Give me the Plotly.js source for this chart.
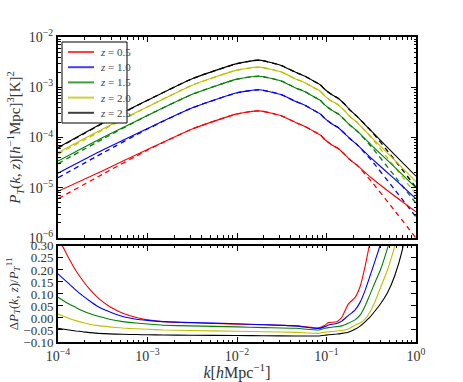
<!DOCTYPE html>
<html>
<head>
<meta charset="utf-8">
<script src="https://cdn.plot.ly/plotly-3.0.1.min.js"></script>
<style>
  html, body { margin: 0; padding: 0; background: #fff; }
  #plot { width: 463px; height: 382px; }
</style>
</head>
<body>
<div id="plot"></div>
<script>
/* ---------- data ---------- */

const redshifts = ['0.5', '1.0', '1.5', '2.0', '2.5'];
const lineColors = ['#ff0000', '#0000ff', '#008000', '#bfbf00', '#000000'];

// top panel: k grid [h/Mpc]
const kTop = [1e-4, 3.16e-4, 1e-3, 3.16e-3, 1e-2, 0.0178, 0.0316, 0.0447, 0.0575, 0.066,
  0.0741, 0.0851, 0.0955, 0.115, 0.135, 0.162, 0.182, 0.219, 0.316, 0.562, 1.0];

// solid curves P_T(k,z)
const pz05 = [8.51e-6, 2.19e-5, 5.75e-5, 1.48e-4, 2.95e-4, 3.39e-4, 2.69e-4, 2.00e-4, 1.66e-4, 1.45e-4,
  1.29e-4, 1.13e-4, 9.12e-5, 7.08e-5, 6.03e-5, 4.47e-5, 3.63e-5, 2.82e-5, 1.58e-5, 7.08e-6, 3.31e-6];
const pz10 = [1.95e-5, 5.62e-5, 1.51e-4, 3.89e-4, 7.76e-4, 8.91e-4, 7.08e-4, 5.25e-4, 4.37e-4, 3.80e-4,
  3.39e-4, 2.95e-4, 2.40e-4, 1.86e-4, 1.58e-4, 1.17e-4, 9.55e-5, 7.24e-5, 3.89e-5, 1.55e-5, 6.03e-6];
const pz15 = [3.39e-5, 1.00e-4, 2.75e-4, 7.24e-4, 1.45e-3, 1.66e-3, 1.32e-3, 9.77e-4, 8.13e-4, 7.08e-4,
  6.31e-4, 5.50e-4, 4.47e-4, 3.47e-4, 2.95e-4, 2.19e-4, 1.78e-4, 1.35e-4, 7.08e-5, 2.69e-5, 1.00e-5];
const pz20 = [5.01e-5, 1.48e-4, 4.07e-4, 1.10e-3, 2.19e-3, 2.51e-3, 2.00e-3, 1.48e-3, 1.23e-3, 1.07e-3,
  9.55e-4, 8.32e-4, 6.76e-4, 5.25e-4, 4.47e-4, 3.31e-4, 2.63e-4, 2.00e-4, 1.02e-4, 3.72e-5, 1.32e-5];
const pz25 = [6.31e-5, 1.95e-4, 5.50e-4, 1.48e-3, 2.95e-3, 3.47e-3, 2.69e-3, 2.00e-3, 1.66e-3, 1.45e-3,
  1.29e-3, 1.12e-3, 9.12e-4, 7.08e-4, 6.03e-4, 4.47e-4, 3.55e-4, 2.63e-4, 1.35e-4, 4.79e-5, 1.70e-5];

// dashed curves (reference spectrum)
const dz05 = [6.03e-6, 1.86e-5, 5.62e-5, 1.48e-4, 2.95e-4, 3.39e-4, 2.69e-4, 2.00e-4, 1.66e-4, 1.45e-4,
  1.29e-4, 1.13e-4, 9.12e-5, 7.08e-5, 6.03e-5, 4.47e-5, 3.63e-5, 2.82e-5, 1.35e-5, 3.72e-6, 1.00e-6];
const dz10 = [1.58e-5, 4.90e-5, 1.48e-4, 3.89e-4, 7.76e-4, 8.91e-4, 7.08e-4, 5.25e-4, 4.37e-4, 3.80e-4,
  3.39e-4, 2.95e-4, 2.40e-4, 1.86e-4, 1.58e-4, 1.17e-4, 9.55e-5, 7.24e-5, 3.55e-5, 9.77e-6, 2.63e-6];
const dz15 = [3.02e-5, 9.33e-5, 2.75e-4, 7.24e-4, 1.45e-3, 1.66e-3, 1.32e-3, 9.77e-4, 8.13e-4, 7.08e-4,
  6.31e-4, 5.50e-4, 4.47e-4, 3.47e-4, 2.95e-4, 2.19e-4, 1.78e-4, 1.35e-4, 6.61e-5, 1.82e-5, 4.90e-6];
const dz20 = [4.68e-5, 1.41e-4, 4.07e-4, 1.10e-3, 2.19e-3, 2.51e-3, 2.00e-3, 1.48e-3, 1.23e-3, 1.07e-3,
  9.55e-4, 8.32e-4, 6.76e-4, 5.25e-4, 4.47e-4, 3.31e-4, 2.63e-4, 2.00e-4, 1.00e-4, 2.75e-5, 7.41e-6];
const dz25 = [6.17e-5, 1.91e-4, 5.50e-4, 1.48e-3, 2.95e-3, 3.47e-3, 2.69e-3, 2.00e-3, 1.66e-3, 1.45e-3,
  1.29e-3, 1.12e-3, 9.12e-4, 7.08e-4, 6.03e-4, 4.47e-4, 3.55e-4, 2.63e-4, 1.35e-4, 3.80e-5, 1.02e-5];

// bottom panel: relative difference
const kBot = [1e-4, 1.12e-4, 1.33e-4, 1.58e-4, 1.88e-4, 2.24e-4, 2.82e-4, 3.76e-4, 5.3e-4, 7.5e-4,
  1e-3, 1.5e-3, 3e-3, 1e-2, 2e-2, 0.046, 0.081, 0.096, 0.105, 0.13, 0.148, 0.175, 0.208, 0.237,
  0.27, 0.30, 0.35, 0.40, 0.48, 0.58, 0.70, 0.85, 1.0];
const rz05 = [0.33, 0.30, 0.247, 0.198, 0.157, 0.121, 0.083, 0.048, 0.020, 0.002,
  -0.008, -0.016, -0.020, -0.026, -0.028, -0.033, -0.041, -0.030, -0.019, -0.016, 0.002, 0.058, 0.085, 0.130,
  0.215, 0.30, 0.45];
const rz10 = [0.184, 0.167, 0.142, 0.116, 0.093, 0.072, 0.047, 0.026, 0.006, -0.005,
  -0.010, -0.015, -0.019, -0.024, -0.028, -0.033, -0.044, -0.036, -0.029, -0.023, -0.013, 0.010, 0.033, 0.065,
  0.115, 0.165, 0.24, 0.305, 0.42];
const rz15 = [0.086, 0.075, 0.058, 0.044, 0.030, 0.019, 0.007, -0.005, -0.015, -0.021,
  -0.025, -0.030, -0.033, -0.037, -0.040, -0.043, -0.050, -0.043, -0.040, -0.036, -0.033, -0.022, -0.008, 0.012,
  0.050, 0.090, 0.15, 0.20, 0.29, 0.40];
const rz20 = [0.016, 0.009, -0.002, -0.011, -0.019, -0.026, -0.032, -0.037, -0.042, -0.045,
  -0.047, -0.050, -0.052, -0.055, -0.057, -0.060, -0.064, -0.059, -0.058, -0.054, -0.052, -0.046, -0.030, -0.021,
  -0.005, 0.020, 0.07, 0.125, 0.20, 0.30, 0.42];
const rz25 = [-0.043, -0.046, -0.050, -0.054, -0.057, -0.061, -0.064, -0.066, -0.068, -0.069,
  -0.070, -0.071, -0.072, -0.073, -0.074, -0.075, -0.075, -0.072, -0.070, -0.067, -0.064, -0.059, -0.047, -0.034,
  -0.016, 0.000, 0.03, 0.058, 0.105, 0.177, 0.28, 0.45];

const kTickVals = [1e-4, 1e-3, 1e-2, 1e-1, 1];
const kTickText = ['10<sup>−4</sup>', '10<sup>−3</sup>', '10<sup>−2</sup>', '10<sup>−1</sup>', '10<sup>0</sup>'];
const pTickVals = [1e-6, 1e-5, 1e-4, 1e-3, 1e-2];
const pTickText = ['10<sup>−6</sup>', '10<sup>−5</sup>', '10<sup>−4</sup>', '10<sup>−3</sup>', '10<sup>−2</sup>'];

/* ---------- traces ---------- */

const solid = [pz05, pz10, pz15, pz20, pz25];
const dashed = [dz05, dz10, dz15, dz20, dz25];
const ratios = [rz05, rz10, rz15, rz20, rz25];

const traces = [];

redshifts.forEach((z, i) => {
  traces.push({
    x: kTop, y: dashed[i], xaxis: 'x2', yaxis: 'y2',
    mode: 'lines', type: 'scatter', showlegend: false, hoverinfo: 'skip',
    line: { color: lineColors[i], width: 1.3, dash: '5px,4px', shape: 'spline', smoothing: 0.5 }
  });
});

redshifts.forEach((z, i) => {
  traces.push({
    x: kTop, y: solid[i], xaxis: 'x2', yaxis: 'y2',
    mode: 'lines', type: 'scatter', showlegend: false,
    line: { color: lineColors[i], width: 1.1, shape: 'spline', smoothing: 0.5 }
  });
});

redshifts.forEach((z, i) => {
  traces.push({
    x: kBot, y: ratios[i], xaxis: 'x', yaxis: 'y',
    mode: 'lines', type: 'scatter', showlegend: false,
    line: { color: lineColors[i], width: 1.1, shape: 'spline', smoothing: 0.4 }
  });
});

/* ---------- hand-made legend (matplotlib-sized rows) ---------- */

const serif = 'Liberation Serif, DejaVu Serif, serif';
// pixel -> paper helpers for the plot area (58..416 x, 37..342 y)
const px = v => (v - 58) / 358;
const py = v => (342 - v) / 305;

const shapes = [{
  type: 'rect', xref: 'paper', yref: 'paper',
  x0: px(62), x1: px(127), y0: py(123), y1: py(42),
  line: { color: '#000', width: 1 }, fillcolor: '#fff', layer: 'above'
}];
const annotations = [];
redshifts.forEach((z, i) => {
  const rowY = 52 + i * 15.2;
  shapes.push({
    type: 'line', xref: 'paper', yref: 'paper',
    x0: px(68), x1: px(94), y0: py(rowY), y1: py(rowY),
    line: { color: lineColors[i], width: 2 }, opacity: 0.75, layer: 'above'
  });
  annotations.push({
    xref: 'paper', yref: 'paper', x: px(98), y: py(rowY),
    xanchor: 'left', yanchor: 'middle', showarrow: false,
    text: '<i>z</i> = ' + z,
    font: { family: serif, size: 11, color: '#444' }
  });
});

/* ---------- layout ---------- */

const frame = {
  showline: true, linecolor: '#000', linewidth: 2, mirror: 'ticks',
  ticks: 'inside', ticklen: 5, tickcolor: '#000', tickwidth: 1,
  showgrid: false, zeroline: false,
  tickfont: { family: serif, size: 14, color: '#333' }
};

const layout = {
  width: 463, height: 382,
  margin: { l: 58, r: 47, t: 37, b: 40 },
  paper_bgcolor: '#fff', plot_bgcolor: '#fff',
  showlegend: false,
  shapes: shapes,
  annotations: annotations,
  xaxis: Object.assign({}, frame, {
    type: 'log', domain: [0, 1], anchor: 'y', range: [-4, 0],
    tickmode: 'array', tickvals: kTickVals, ticktext: kTickText,
    minor: { ticks: 'inside', ticklen: 2.5, tickcolor: '#000', dtick: 'D1', showgrid: false },
    title: { text: '<i>k</i>[<i>h</i>Mpc<sup>−1</sup>]', font: { family: serif, size: 16, color: '#333' }, standoff: 4 }
  }),
  yaxis: Object.assign({}, frame, {
    domain: [0, 0.315], anchor: 'x', range: [-0.1, 0.3],
    tickmode: 'linear', tick0: -0.1, dtick: 0.05, tickformat: '.2f',
    tickfont: { family: serif, size: 13, color: '#333' },
    title: { text: 'Δ<i>P<sub>T</sub></i>(<i>k</i>, <i>z</i>)/<i>P</i><sub><i>T</i></sub><sup>11</sup>', font: { family: serif, size: 13, color: '#333' }, standoff: 2 }
  }),
  xaxis2: Object.assign({}, frame, {
    type: 'log', domain: [0, 1], anchor: 'y2', range: [-4, 0], matches: 'x',
    tickmode: 'array', tickvals: kTickVals, showticklabels: false,
    minor: { ticks: 'inside', ticklen: 2.5, tickcolor: '#000', dtick: 'D1', showgrid: false }
  }),
  yaxis2: Object.assign({}, frame, {
    type: 'log', domain: [0.341, 1], anchor: 'x2', range: [-6, -2],
    tickmode: 'array', tickvals: pTickVals, ticktext: pTickText,
    minor: { ticks: 'inside', ticklen: 2.5, tickcolor: '#000', dtick: 'D1', showgrid: false },
    title: { text: '<i>P<sub>T</sub></i>(<i>k</i>, <i>z</i>)[<i>h</i><sup>−1</sup>Mpc]<sup>3</sup>[K]<sup>2</sup>', font: { family: serif, size: 15, color: '#333' }, standoff: 4 }
  })
};

Plotly.newPlot('plot', traces, layout, { staticPlot: true, displayModeBar: false });
</script>
</body>
</html>
